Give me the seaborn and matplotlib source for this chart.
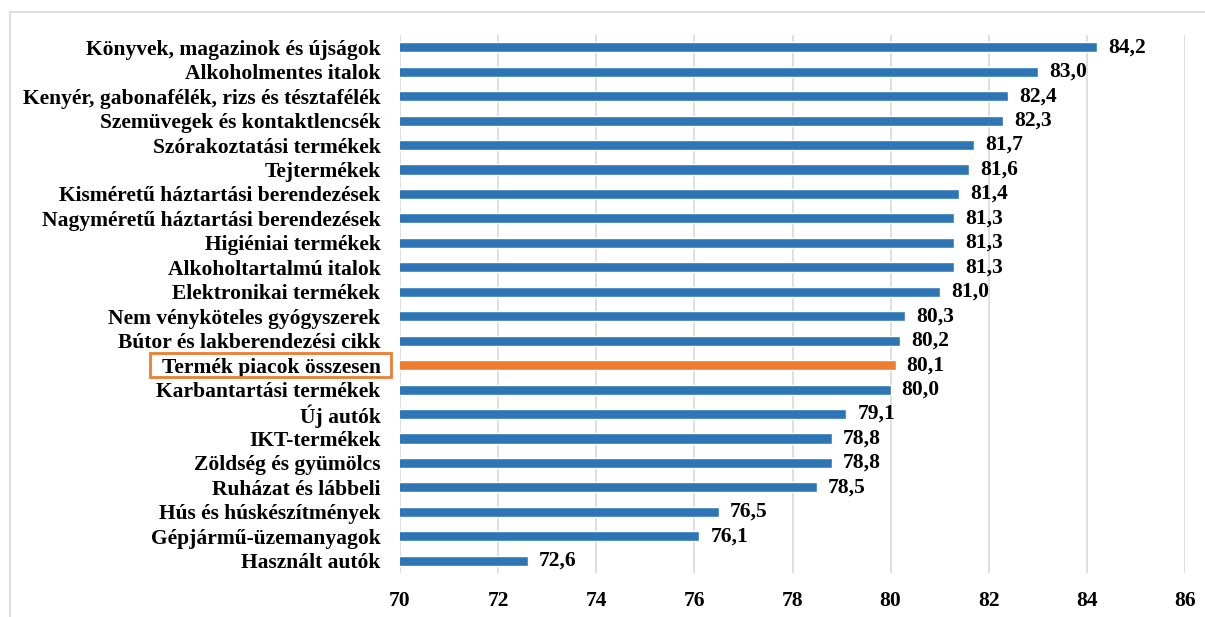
import matplotlib
matplotlib.use("Agg")
import matplotlib.pyplot as plt
from matplotlib.patches import Rectangle
import seaborn as sns
import pandas as pd

categories = [
    "Könyvek, magazinok és újságok",
    "Alkoholmentes italok",
    "Kenyér, gabonafélék, rizs és tésztafélék",
    "Szemüvegek és kontaktlencsék",
    "Szórakoztatási termékek",
    "Tejtermékek",
    "Kisméretű háztartási berendezések",
    "Nagyméretű háztartási berendezések",
    "Higiéniai termékek",
    "Alkoholtartalmú italok",
    "Elektronikai termékek",
    "Nem vényköteles gyógyszerek",
    "Bútor és lakberendezési cikk",
    "Termék piacok összesen",
    "Karbantartási termékek",
    "Új autók",
    "IKT-termékek",
    "Zöldség és gyümölcs",
    "Ruházat és lábbeli",
    "Hús és húskészítmények",
    "Gépjármű-üzemanyagok",
    "Használt autók",
]
values = [84.2, 83.0, 82.4, 82.3, 81.7, 81.6, 81.4, 81.3, 81.3, 81.3, 81.0,
          80.3, 80.2, 80.1, 80.0, 79.1, 78.8, 78.8, 78.5, 76.5, 76.1, 72.6]
highlight = "Termék piacok összesen"
x_ticks = [70, 72, 74, 76, 78, 80, 82, 84, 86]

BLUE = "#2E75B6"
ORANGE = "#ED7D31"
FS = 15.5

df = pd.DataFrame({"kategoria": categories, "ertek": values})
palette = {c: (ORANGE if c == highlight else BLUE) for c in categories}

sns.set_theme(style="white")
plt.rcParams["font.family"] = ["Liberation Serif", "DejaVu Serif"]
plt.rcParams["font.weight"] = "bold"

fig = plt.figure(figsize=(12.05, 6.17), dpi=100)
ax = fig.add_axes([400 / 1205, 1 - 573 / 617, 785 / 1205, 538 / 617])

# light frame around the chart area
fig.patches.append(Rectangle((9.5 / 1205, -0.1), 1.2, 1 - 12 / 617 + 0.1,
                             transform=fig.transFigure, fill=False,
                             edgecolor="#D9D9D9", lw=1.2, zorder=0))

sns.barplot(data=df, x="ertek", y="kategoria", hue="kategoria",
            palette=palette, orient="h", width=0.41, legend=False,
            saturation=1, ax=ax, zorder=3)

ax.set_xlim(70, 86)
ax.set_ylim(len(categories) - 0.5, -0.5)
ax.set_xticks(x_ticks)
ax.set_xticklabels([str(t) for t in x_ticks])
ax.set_xlabel("")
ax.set_ylabel("")
ax.grid(axis="x", color="#D9D9D9", lw=1.2, zorder=0)
ax.grid(axis="y", visible=False)
for s in ax.spines.values():
    s.set_visible(False)
ax.tick_params(axis="y", length=0, pad=14, labelsize=FS)
ax.tick_params(axis="x", length=0, pad=13, labelsize=FS)
for lbl in ax.get_xticklabels() + ax.get_yticklabels():
    lbl.set_fontweight("bold")
    lbl.set_color("black")

for i, v in enumerate(values):
    ax.annotate(f"{v:.1f}".replace(".", ","), xy=(v, i), xytext=(8, 0),
                textcoords="offset points", va="center", ha="left",
                fontsize=FS, fontweight="bold", color="black")

# orange frame around the highlighted category label
fig.canvas.draw()
renderer = fig.canvas.get_renderer()
for lbl in ax.get_yticklabels():
    if lbl.get_text() == highlight:
        bb = lbl.get_window_extent(renderer)
        x0, x1 = bb.x0 - 12, bb.x1 + 10
        y0, y1 = bb.y0 + 0.5, bb.y1 + 4.5
        fig.patches.append(Rectangle((x0 / fig.bbox.width, y0 / fig.bbox.height),
                                     (x1 - x0) / fig.bbox.width,
                                     (y1 - y0) / fig.bbox.height,
                                     transform=fig.transFigure, fill=False,
                                     edgecolor=ORANGE, lw=2, zorder=5))

fig.savefig("out.png", dpi=100)
